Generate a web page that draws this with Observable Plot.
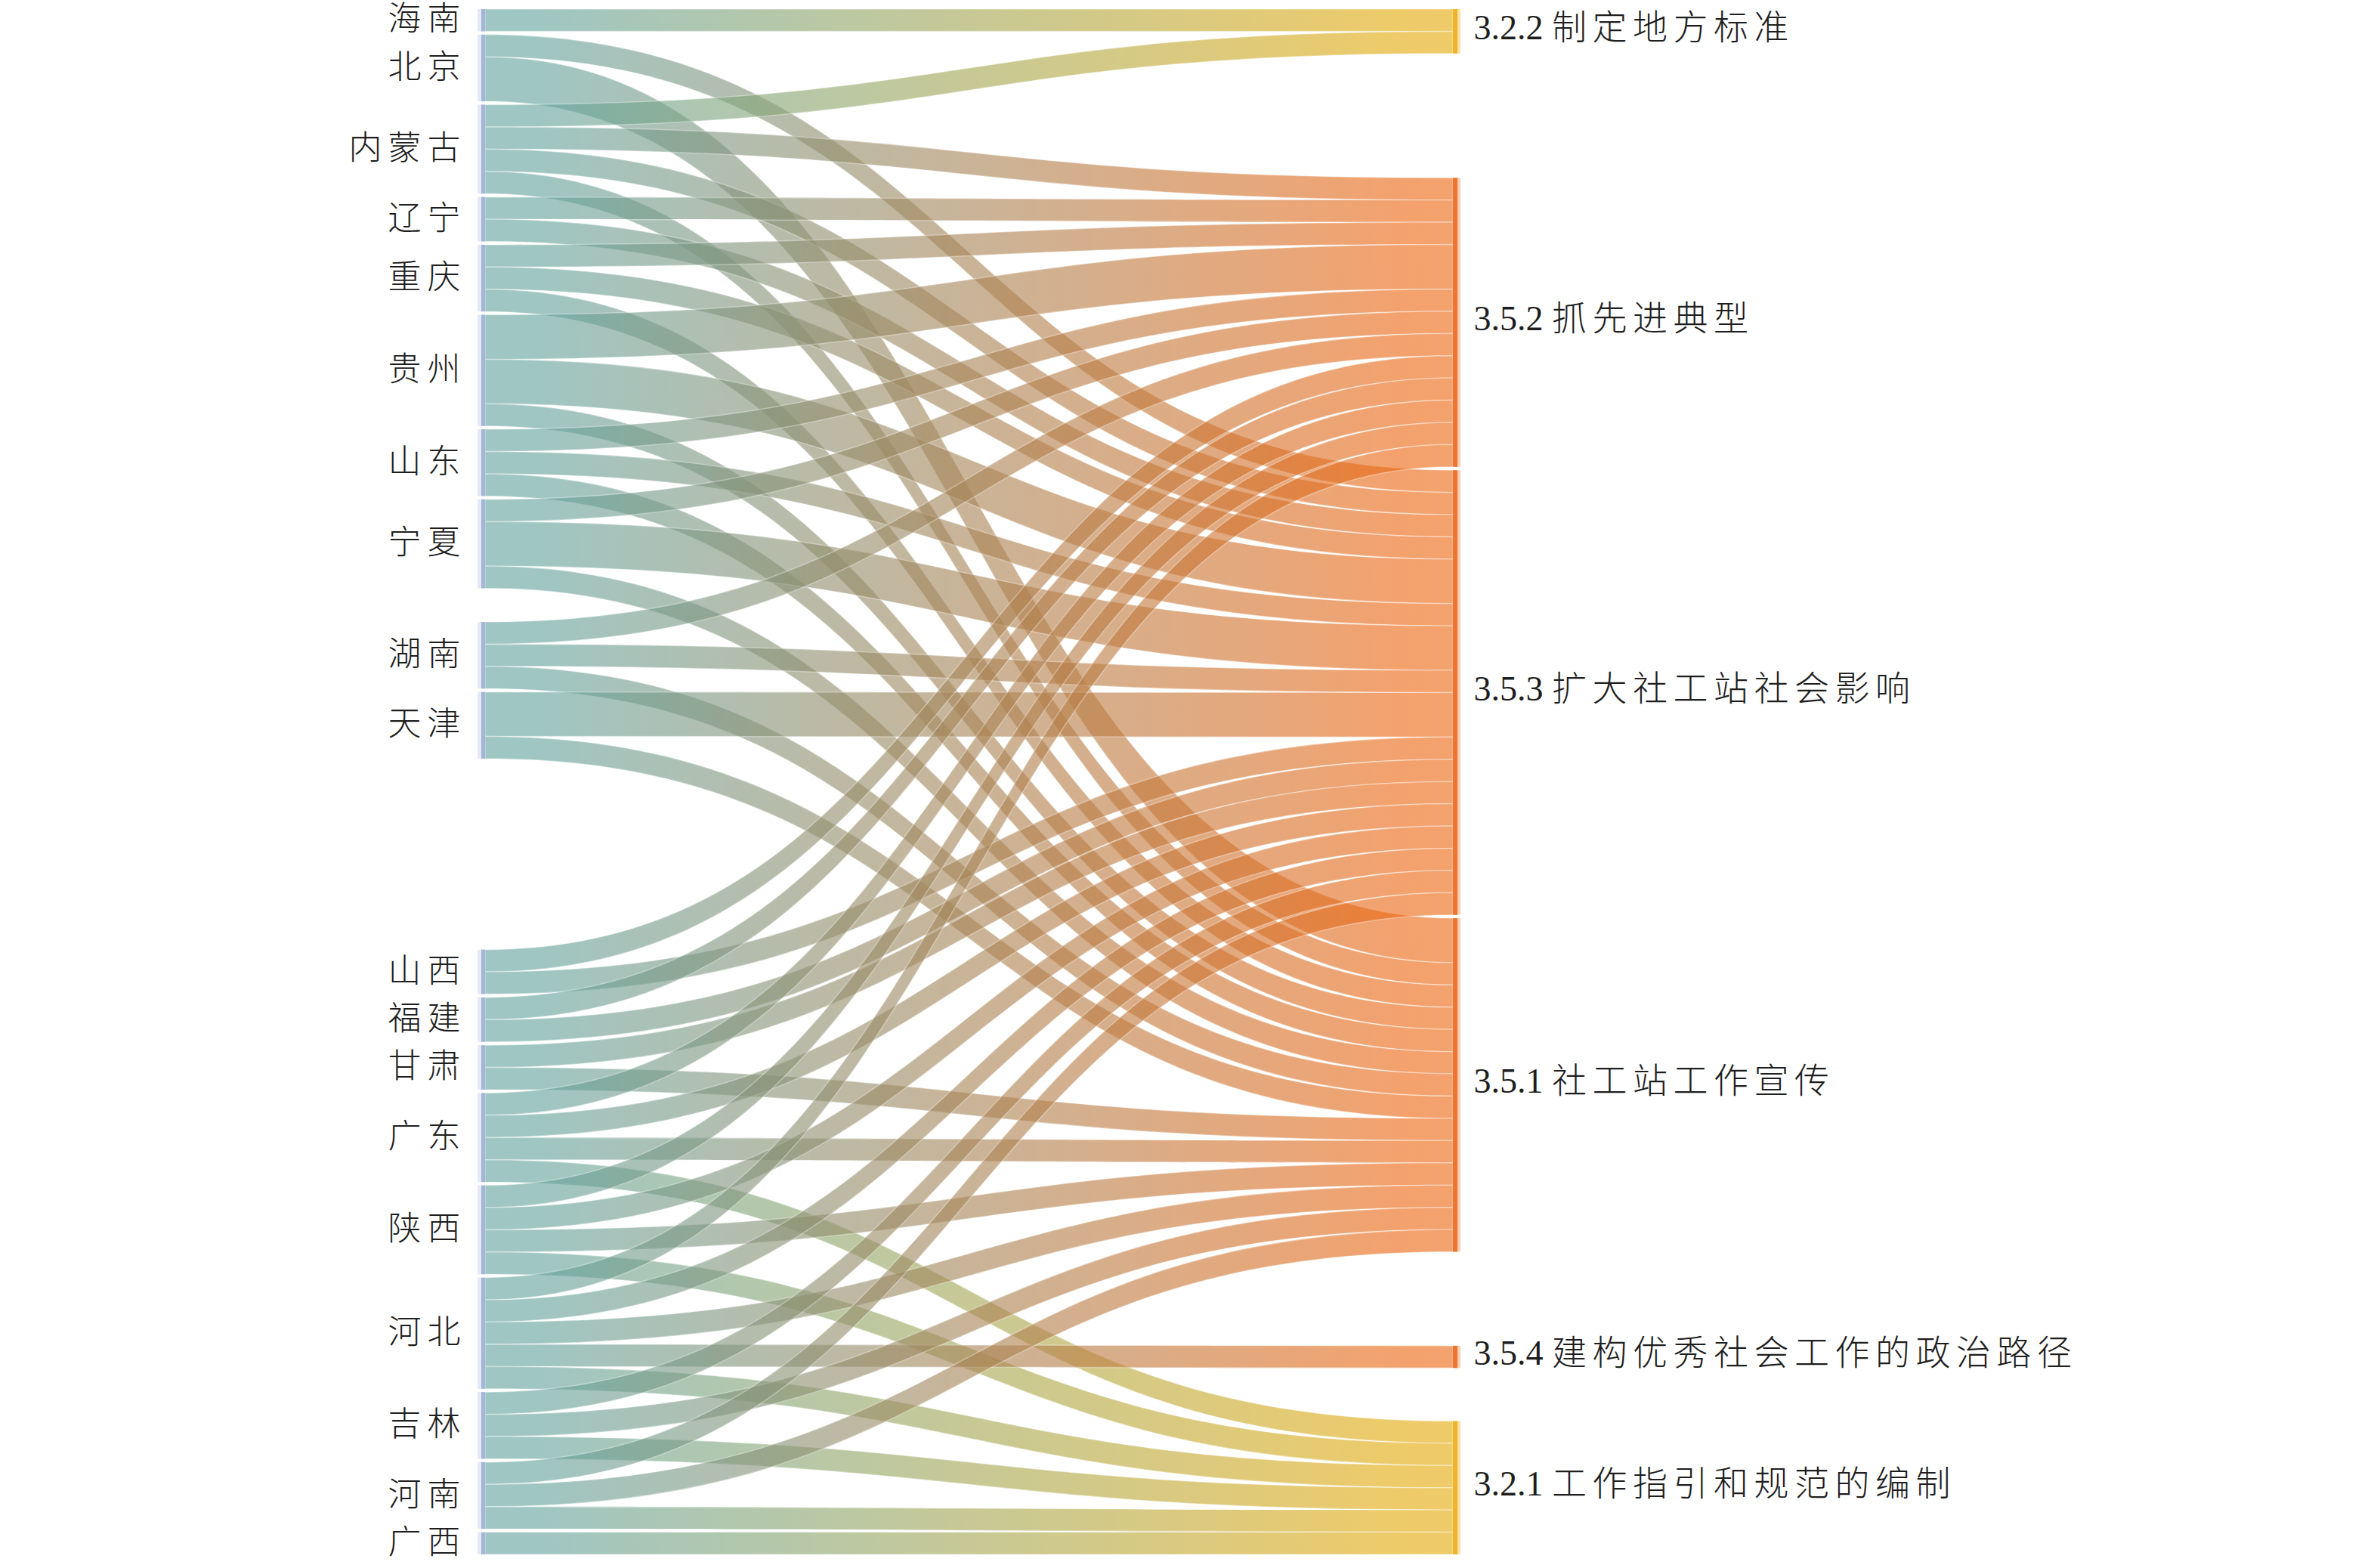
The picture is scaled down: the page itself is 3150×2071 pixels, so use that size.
<!DOCTYPE html>
<html>
<head>
<meta charset="utf-8">
<script src="https://cdn.jsdelivr.net/npm/d3@7"></script>
<script src="https://cdn.jsdelivr.net/npm/@observablehq/plot@0.6"></script>
<style>
html,body{margin:0;padding:0;background:#fff;}
#chart svg{display:block;}
g[text-anchor="end"] text{letter-spacing:8px;}
</style>
</head>
<body>
<div id="chart"></div>
<script>
// ---------------- data ----------------
const provinces = ["海南","北京","内蒙古","辽宁","重庆","贵州","山东","宁夏","湖南","天津",
                   "山西","福建","甘肃","广东","陕西","河北","吉林","河南","广西"];
const categories = ["3.2.2 制定地方标准","3.5.2 抓先进典型","3.5.3 扩大社工站社会影响",
                    "3.5.1 社工站工作宣传","3.5.4 建构优秀社会工作的政治路径","3.2.1 工作指引和规范的编制"];
const linkSource = [
  "海南",
  "北京","北京",
  "内蒙古","内蒙古","内蒙古","内蒙古",
  "辽宁","辽宁",
  "重庆","重庆","重庆",
  "贵州","贵州","贵州",
  "山东","山东","山东",
  "宁夏","宁夏","宁夏",
  "湖南","湖南","湖南",
  "天津","天津",
  "山西","山西",
  "福建","福建",
  "甘肃","甘肃",
  "广东","广东","广东","广东",
  "陕西","陕西","陕西","陕西",
  "河北","河北","河北","河北","河北",
  "吉林","吉林","吉林",
  "河南","河南","河南",
  "广西"
];
const linkTarget = [
  "3.2.2",
  "3.5.3","3.5.1",
  "3.2.2","3.5.2","3.5.3","3.5.1",
  "3.5.2","3.5.3",
  "3.5.2","3.5.3","3.5.1",
  "3.5.2","3.5.3","3.5.1",
  "3.5.2","3.5.3","3.5.1",
  "3.5.2","3.5.3","3.5.1",
  "3.5.2","3.5.3","3.5.1",
  "3.5.3","3.5.1",
  "3.5.2","3.5.3",
  "3.5.2","3.5.3",
  "3.5.3","3.5.1",
  "3.5.2","3.5.3","3.5.1","3.2.1",
  "3.5.2","3.5.3","3.5.1","3.2.1",
  "3.5.2","3.5.3","3.5.1","3.5.4","3.2.1",
  "3.5.3","3.5.1","3.2.1",
  "3.5.3","3.5.1","3.2.1",
  "3.2.1"
];
const linkValue = [
  1,
  1,2,
  1,1,1,1,
  1,1,
  1,1,1,
  2,2,1,
  1,1,1,
  1,2,1,
  1,1,1,
  2,1,
  1,1,
  1,1,
  1,1,
  1,1,1,1,
  1,1,1,1,
  1,1,1,1,1,
  1,1,1,
  1,1,1,
  1
];

// ---------------- layout options ----------------
const extentUnits = 69.5;   // vertical extent of the diagram in value units
const nodeGap = 0.15;       // gap between neighbouring nodes, value units
// how each column's leftover space is shared out (placed after the named node)
const freeSpaceShare = {"宁夏": 1, "天津": 6.2, "3.2.2": 5.6, "3.5.1": 4.2, "3.5.4": 2.3};

const leftNodes = provinces.map((name, i) => ({name, key: name, side: 0, index: i, ins: [], outs: []}));
const rightNodes = categories.map((name, i) => ({name, key: name.split(" ")[0], side: 1, index: i, ins: [], outs: [],
  family: name.startsWith("3.2") ? "yellow" : "orange"}));
const links = linkSource.map((s, i) => ({
  id: i,
  source: leftNodes.find(n => n.name === s),
  target: rightNodes.find(n => n.key === linkTarget[i]),
  value: linkValue[i]
}));
for (const l of links) { l.source.outs.push(l); l.target.ins.push(l); }
for (const n of [...leftNodes, ...rightNodes]) {
  n.value = Math.max(d3.sum(n.ins, l => l.value), d3.sum(n.outs, l => l.value));
}
function place(col) {
  const used = d3.sum(col, n => n.value) + (col.length - 1) * nodeGap;
  const free = extentUnits - used;
  const shares = col.map(n => freeSpaceShare[n.key] || 0);
  const total = d3.sum(shares) || 1;
  let y = 0;
  col.forEach((n, i) => { n.y = y; y += n.value + nodeGap + free * shares[i] / total; });
}
place(leftNodes);
place(rightNodes);
for (const n of leftNodes) {
  let sy = n.y;
  for (const l of n.outs.slice().sort((a, b) => a.target.index - b.target.index)) { l.sy = sy; sy += l.value; }
}
for (const n of rightNodes) {
  let ty = n.y;
  for (const l of n.ins.slice().sort((a, b) => a.source.index - b.source.index)) { l.ty = ty; ty += l.value; }
}
const nodeRows = [...leftNodes, ...rightNodes].map(n => ({name: n.name, side: n.side, family: n.family, y0: n.y, y1: n.y + n.value}));
const linkRows = links.flatMap(l => [
  {id: l.id, family: l.target.family, x: 0, y1: l.sy, y2: l.sy + l.value},
  {id: l.id, family: l.target.family, x: 1, y1: l.ty, y2: l.ty + l.value}
]);

// ---------------- drawing ----------------
const gradients = () => {
  const g = d3.create("svg:g");
  const defs = g.append("defs");
  const mk = (id, c0, c1) => {
    const lg = defs.append("linearGradient").attr("id", id)
      .attr("x1", "0").attr("x2", "1").attr("y1", "0").attr("y2", "0");
    lg.append("stop").attr("offset", "0").attr("stop-color", c0);
    lg.append("stop").attr("offset", "0.05").attr("stop-color", c0);
    lg.append("stop").attr("offset", "0.95").attr("stop-color", c1);
    lg.append("stop").attr("offset", "1").attr("stop-color", c1);
  };
  mk("gOrange", "#64a39d", "#ec6814");
  mk("gYellow", "#64a39d", "#e4ab0c");
  return g.node();
};
const font = "'Liberation Serif','Noto Sans CJK SC',serif";
const chart = Plot.plot({
  width: 3150,
  height: 2071,
  marginLeft: 642,
  marginRight: 1227,
  marginTop: 12,
  marginBottom: 14,
  x: {domain: [0, 1], axis: null},
  y: {domain: [0, extentUnits], reverse: true, axis: null},
  marks: [
    gradients,
    Plot.areaY(linkRows, {
      x: "x", y1: "y1", y2: "y2", z: "id", curve: "bump-x",
      fill: d => d.family === "yellow" ? "url(#gYellow)" : "url(#gOrange)",
      fillOpacity: 0.62, stroke: "white", strokeOpacity: 0.35, strokeWidth: 1.5
    }),
    Plot.rect(nodeRows.filter(d => d.side === 0), {
      x1: () => 0, x2: () => 0, y1: "y0", y2: "y1", insetLeft: -10, fill: "#e4eaf4"
    }),
    Plot.rect(nodeRows.filter(d => d.side === 0), {
      x1: () => 0, x2: () => 0, y1: "y0", y2: "y1", insetLeft: -5, fill: "#a5b4d9"
    }),
    Plot.rect(nodeRows.filter(d => d.side === 1), {
      x1: () => 1, x2: () => 1, y1: "y0", y2: "y1", insetRight: -10,
      fill: d => d.family === "yellow" ? "#f7e2a6" : "#f9cfb3"
    }),
    Plot.rect(nodeRows.filter(d => d.side === 1), {
      x1: () => 1, x2: () => 1, y1: "y0", y2: "y1", insetRight: -6,
      fill: d => d.family === "yellow" ? "#efb42a" : "#ef7430"
    }),
    Plot.text(nodeRows.filter(d => d.side === 0), {
      x: () => 0, y: d => (d.y0 + d.y1) / 2, text: "name", textAnchor: "end", dx: -25, dy: -1,
      fontSize: 44, fontWeight: 300, fontFamily: font, fill: "#1e1e1e"
    }),
    Plot.text(nodeRows.filter(d => d.side === 1), {
      x: () => 1, y: d => (d.y0 + d.y1) / 2, text: "name", textAnchor: "start", dx: 27, dy: -5,
      fontSize: 46, fontWeight: 300, fontFamily: font, fill: "#1e1e1e"
    })
  ]
});
// label typography: tight section numbers, spaced Chinese text
d3.select(chart).selectAll('g[text-anchor="start"] text').each(function () {
  const t = d3.select(this);
  const s = t.text();
  const k = s.indexOf(" ");
  t.text(null);
  t.append("tspan").text(s.slice(0, k + 1));
  t.append("tspan").style("letter-spacing", "7.5px").text(s.slice(k + 1));
});
document.getElementById("chart").append(chart);
</script>
</body>
</html>
